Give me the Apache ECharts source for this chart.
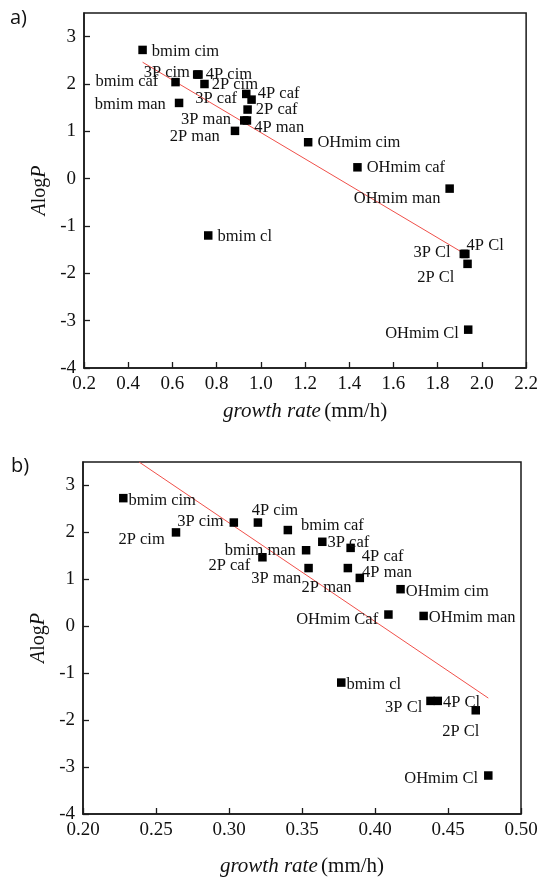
<!DOCTYPE html>
<html>
<head>
<meta charset="utf-8">
<script src="https://cdn.jsdelivr.net/npm/echarts@6/dist/echarts.min.js"></script>
<style>
html,body{margin:0;padding:0;background:#fff;}
#c{width:541px;height:878px;}
</style>
</head>
<body>
<div id="c"></div>
<script>
// ---- data ----
const namesA = ['bmim cim','bmim caf','3P cim','4P cim','2P cim','bmim man','3P caf','4P caf','2P caf','3P man','4P man','2P man','OHmim cim','OHmim caf','OHmim man','bmim cl','3P Cl','4P Cl','2P Cl','OHmim Cl'];
const namesB = ['bmim cim','bmim caf','3P cim','4P cim','2P cim','bmim man','3P caf','4P caf','2P caf','3P man','4P man','2P man','OHmim cim','OHmim Caf','OHmim man','bmim cl','3P Cl','4P Cl','2P Cl','OHmim Cl'];
const aX = [0.465,0.614,0.712,0.718,0.745,0.630,0.934,0.958,0.940,0.925,0.937,0.883,1.214,1.437,1.854,0.762,1.918,1.925,1.935,1.938];
const aY = [2.72,2.04,2.20,2.20,2.00,1.60,1.79,1.67,1.46,1.23,1.23,1.01,0.77,0.24,-0.21,-1.20,-1.59,-1.59,-1.80,-3.19];
const bX = [0.2276,0.3403,0.3033,0.3198,0.2637,0.3528,0.3639,0.3833,0.3229,0.3545,0.3814,0.3896,0.4175,0.4092,0.4333,0.3769,0.4380,0.4430,0.4690,0.4776];
const bY = [2.73,2.05,2.21,2.21,2.00,1.62,1.80,1.67,1.47,1.24,1.24,1.03,0.79,0.25,0.22,-1.20,-1.59,-1.59,-1.79,-3.18];
// fitted lines (end points)
const fitAX = [0.465, 1.937];
const fitAY = [2.46, -1.63];
const fitBX = [0.2384, 0.4776];
const fitBY = [3.5, -1.53];
const xTicksA = {min:0.2, max:2.2, interval:0.2};
const xTicksB = {min:0.2, max:0.5, interval:0.05};
const yTicks = {min:-4, max:3.5, interval:1};

// ---- label placement (style) ----
const placeA = [
  ['right',[0,-1]],['left',[-8,-3]],['left',[0,-4],3],['right',[0,-2],3],['right',[0,-2],3],
  ['left',[-4,-1]],['left',[0,2]],['right',[0,-8],2],['right',[0,-2],4],['left',[-4,-3]],
  ['right',[0,5],3],['left',[-6,3]],['right',[0,-2]],['right',[0,-2]],['left',[0,8]],
  ['right',[0,-1]],['left',[-4,-4]],['right',[-8,-11]],['left',[-4,11]],['left',[0,2]]
];
const placeB = [
  ['right',[-4,0]],['right',[4,-7]],['left',[-1,-3]],['top',[17,3]],['left',[-2,5]],
  ['left',[-1,-2]],['right',[-4,-2]],['right',[2,6]],['left',[-3,6]],['left',[2,8]],
  ['right',[5,2]],['left',[1,7]],['right',[-4,0]],['left',[-1,3]],['right',[-4,-1]],
  ['right',[-4,0]],['left',[1,4]],['right',[-4,-1]],['bottom',[-15,1]],['left',[-1,1]]
];
const LABEL_DY = 2.5;

const SERIF = '"Liberation Serif","Times New Roman",serif';
const AX = '#1a1a1a';

function points(xs, ys, names, place){
  return xs.map((x,i)=>({
    value:[x, ys[i]], name:names[i],
    label:{position:place[i][0], offset:[place[i][1][0], place[i][1][1]+LABEL_DY],
      distance: place[i][2]!=null?place[i][2]:5}
  }));
}
function linePts(xs, ys){ return xs.map((x,i)=>[x, ys[i]]); }

function xAxisCfg(idx, t, dec, gap){
  return {
    type:'value', gridIndex:idx, min:t.min, max:t.max, interval:t.interval,
    name:'{i|growth rate} {n|(mm/h)}', nameLocation:'middle', nameGap:gap,
    nameTextStyle:{rich:{
      i:{fontFamily:SERIF, fontStyle:'italic', fontSize:21, color:'#111'},
      n:{fontFamily:SERIF, fontSize:21, color:'#111'}
    }},
    axisLine:{show:true, onZero:false, lineStyle:{color:AX, width:1.5}},
    axisTick:{show:true, inside:true, length:6, lineStyle:{color:AX, width:1.3}},
    axisLabel:{fontFamily:SERIF, fontSize:19, color:'#111', margin:7,
      formatter:v=>v.toFixed(dec)},
    splitLine:{show:false}
  };
}
function yAxisCfg(idx){
  return {
    type:'value', gridIndex:idx, min:yTicks.min, max:yTicks.max, interval:yTicks.interval,
    name:'{i|A}{n|log}{i|P}', nameLocation:'middle', nameGap:25, nameRotate:90,
    nameTextStyle:{rich:{
      i:{fontFamily:SERIF, fontStyle:'italic', fontSize:20, color:'#111'},
      n:{fontFamily:SERIF, fontSize:20, color:'#111'}
    }},
    axisLine:{show:true, onZero:false, lineStyle:{color:AX, width:1.5}},
    axisTick:{show:true, inside:true, length:6, lineStyle:{color:AX, width:1.3}},
    axisLabel:{fontFamily:SERIF, fontSize:19, color:'#111', margin:8, showMaxLabel:false,
      formatter:v=>Number.isInteger(v)?String(v):''},
    splitLine:{show:false}
  };
}
const labelStyle = {show:true, formatter:'{b}', fontFamily:SERIF, fontSize:16.5, color:'#111'};

const chart = echarts.init(document.getElementById('c'), null, {renderer:'canvas'});
chart.setOption({
  animation:false,
  backgroundColor:'#fff',
  graphic:[
    {type:'text', left:10, top:8, style:{text:'a)', font:'20px "Open Sans", sans-serif', fill:'#111'}},
    {type:'text', left:11, top:456, style:{text:'b)', font:'20px "Open Sans", sans-serif', fill:'#111'}}
  ],
  grid:[
    {left:84, top:13, width:443, height:355, show:true, borderColor:AX, borderWidth:1.5, backgroundColor:'transparent'},
    {left:83, top:462, width:438, height:355, show:true, borderColor:AX, borderWidth:1.5, backgroundColor:'transparent'}
  ],
  xAxis:[xAxisCfg(0, xTicksA, 1, 33), xAxisCfg(1, xTicksB, 2, 42)],
  yAxis:[yAxisCfg(0), yAxisCfg(1)],
  series:[
    {type:'line', xAxisIndex:0, yAxisIndex:0, data:linePts(fitAX, fitAY), symbol:'none',
      lineStyle:{color:'#f0504a', width:1}, z:1},
    {type:'scatter', xAxisIndex:0, yAxisIndex:0, symbol:'rect', symbolSize:8.5,
      itemStyle:{color:'#000', opacity:1}, label:labelStyle, data:points(aX, aY, namesA, placeA), z:2},
    {type:'line', xAxisIndex:1, yAxisIndex:1, data:linePts(fitBX, fitBY), symbol:'none',
      lineStyle:{color:'#f0504a', width:1}, z:1},
    {type:'scatter', xAxisIndex:1, yAxisIndex:1, symbol:'rect', symbolSize:8.5,
      itemStyle:{color:'#000', opacity:1}, label:labelStyle, data:points(bX, bY, namesB, placeB), z:2}
  ]
});
</script>
</body>
</html>
